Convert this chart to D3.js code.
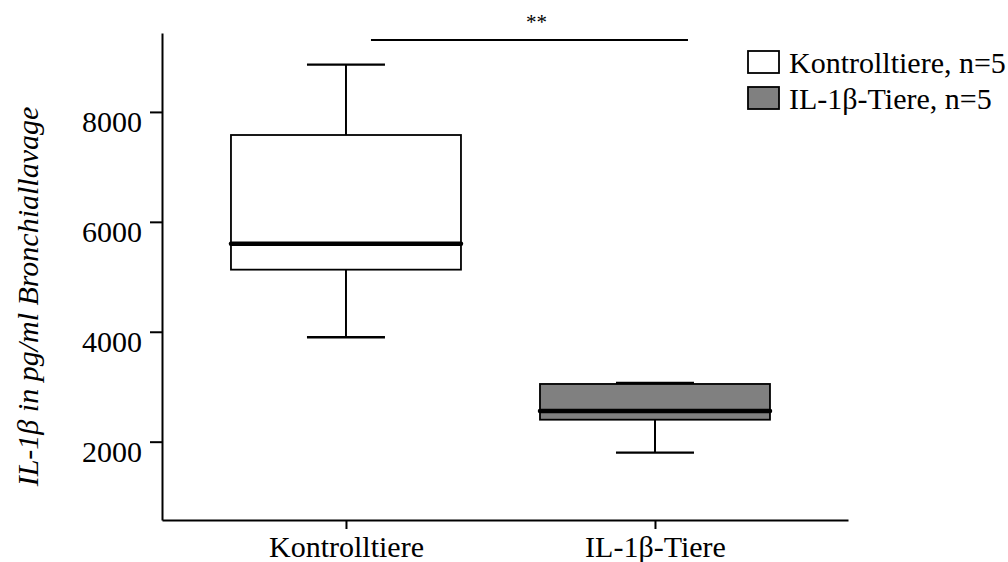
<!DOCTYPE html>
<html>
<head>
<meta charset="utf-8">
<script src="https://cdn.jsdelivr.net/npm/d3@7/dist/d3.min.js"></script>
<style>
  html, body { margin: 0; padding: 0; background: #fff; }
  svg { display: block; }
  text { font-family: "Liberation Serif", "Times New Roman", serif; fill: #000; }
</style>
</head>
<body>
<svg id="chart" width="1008" height="562"></svg>
<script>
// Groups and five-number summaries (pg/ml)
const categories = ["Kontrolltiere", "IL-1β-Tiere"];
const legendLabels = ["Kontrolltiere, n=5", "IL-1β-Tiere, n=5"];
const fills = ["#ffffff", "#808080"];
const mins    = [3900, 1800];
const q1s     = [5130, 2400];
const medians = [5600, 2560];
const q3s     = [7580, 3050];
const maxs    = [8860, 3070];
const yTicks  = [2000, 4000, 6000, 8000];
const yTitle  = "IL-1β in pg/ml Bronchiallavage";
const sigLabel = "**";
const sigLevel = 9310;

const svg = d3.select("#chart");
const FS = 30;

const y = d3.scaleLinear().domain([575, 9436]).range([520, 33]);
const x = d3.scalePoint().domain(categories).range([162, 848]).padding(0.61).align(0.488);

const boxHalf = 115;
const capHalf = 39;

// Y axis
const yAxis = svg.append("g")
  .attr("transform", "translate(162,0)")
  .call(d3.axisLeft(y).tickValues(yTicks).tickSize(12).tickSizeOuter(0).tickPadding(8).tickFormat(d3.format("d")));
yAxis.select(".domain").attr("stroke", "#000").attr("stroke-width", 2);
yAxis.selectAll(".tick line").attr("stroke", "#000").attr("stroke-width", 2);
yAxis.selectAll(".tick text")
  .attr("dy", 20)
  .style("font-size", FS + "px")
  .style("font-family", "'Liberation Serif', 'Times New Roman', serif");

// X axis
const xAxis = svg.append("g")
  .attr("transform", "translate(0,520)")
  .call(d3.axisBottom(x).tickSize(9).tickSizeOuter(0).tickPadding(7));
xAxis.select(".domain").attr("stroke", "#000").attr("stroke-width", 2);
xAxis.selectAll(".tick line").attr("stroke", "#000").attr("stroke-width", 2);
xAxis.selectAll(".tick text")
  .style("font-size", FS + "px")
  .style("font-family", "'Liberation Serif', 'Times New Roman', serif");

// Y axis title
svg.append("text")
  .attr("transform", `translate(38,${(y(575) + y(9436)) / 2 + 20}) rotate(-90)`)
  .attr("text-anchor", "middle")
  .style("font-size", FS + "px")
  .style("font-style", "italic")
  .text(yTitle);

// Box plots
const data = categories.map((c, i) => ({
  c, fill: fills[i], min: mins[i], q1: q1s[i], med: medians[i], q3: q3s[i], max: maxs[i]
}));

const g = svg.append("g").selectAll("g").data(data).join("g");

// whiskers
g.append("line")
  .attr("x1", d => x(d.c)).attr("x2", d => x(d.c))
  .attr("y1", d => y(d.q3)).attr("y2", d => y(d.max))
  .attr("stroke", "#000").attr("stroke-width", 2);
g.append("line")
  .attr("x1", d => x(d.c)).attr("x2", d => x(d.c))
  .attr("y1", d => y(d.q1)).attr("y2", d => y(d.min))
  .attr("stroke", "#000").attr("stroke-width", 2);

// box
g.append("rect")
  .attr("x", d => x(d.c) - boxHalf)
  .attr("width", boxHalf * 2)
  .attr("y", d => y(d.q3))
  .attr("height", d => y(d.q1) - y(d.q3))
  .attr("fill", d => d.fill)
  .attr("stroke", "#000").attr("stroke-width", 1.8);

// caps
[["max"], ["min"]].forEach(([k]) => {
  g.append("line")
    .attr("x1", d => x(d.c) - capHalf).attr("x2", d => x(d.c) + capHalf)
    .attr("y1", d => y(d[k])).attr("y2", d => y(d[k]))
    .attr("stroke", "#000").attr("stroke-width", 2.4);
});

// median
g.append("line")
  .attr("x1", d => x(d.c) - boxHalf).attr("x2", d => x(d.c) + boxHalf)
  .attr("y1", d => y(d.med)).attr("y2", d => y(d.med))
  .attr("stroke", "#000").attr("stroke-width", 4.5)
  .attr("stroke-linecap", "round");

// Significance bracket
const sx1 = x(categories[0]) + 25;
const sx2 = x(categories[1]) + 33;
svg.append("line")
  .attr("x1", sx1).attr("x2", sx2)
  .attr("y1", y(sigLevel)).attr("y2", y(sigLevel))
  .attr("stroke", "#000").attr("stroke-width", 2);
svg.append("text")
  .attr("x", (sx1 + sx2) / 2 + 7)
  .attr("y", y(sigLevel) - 11)
  .attr("text-anchor", "middle")
  .style("font-size", "21px")
  .text(sigLabel);

// Legend
const leg = svg.append("g").attr("transform", "translate(748,51)");
const li = leg.selectAll("g").data(legendLabels).join("g")
  .attr("transform", (d, i) => `translate(0,${i * 36})`);
li.append("rect")
  .attr("width", 31).attr("height", 22)
  .attr("fill", (d, i) => fills[i])
  .attr("stroke", "#000").attr("stroke-width", 1.8);
li.append("text")
  .attr("x", 41).attr("y", 21.5)
  .style("font-size", FS + "px")
  .text(d => d);
</script>
</body>
</html>
